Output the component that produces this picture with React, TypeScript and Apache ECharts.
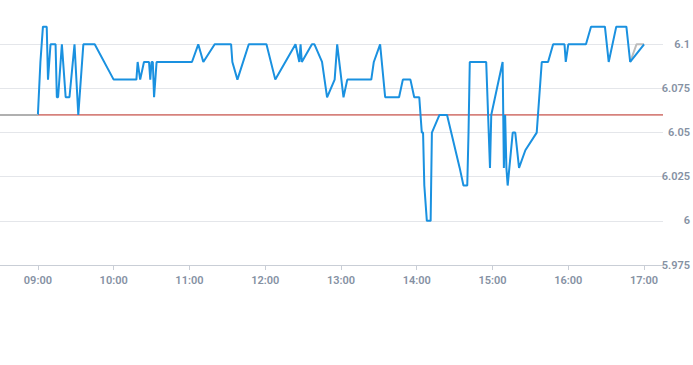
import React, { useEffect, useRef } from "react";
import * as echarts from "echarts";

// Intraday price (blue)
const times: string[] = [
  "09:00", "09:02", "09:04", "09:07", "09:08", "09:10", "09:14", "09:15", "09:16", "09:19",
  "09:22", "09:25", "09:29", "09:32", "09:36", "09:45", "10:00", "10:18", "10:19", "10:21",
  "10:24", "10:28", "10:29", "10:30", "10:31", "10:32", "10:34", "11:02", "11:07", "11:11",
  "11:20", "11:33", "11:34", "11:38", "11:47", "12:01", "12:08", "12:24", "12:27", "12:28",
  "12:29", "12:37", "12:39", "12:45", "12:47", "12:49", "12:55", "12:57", "13:02", "13:05",
  "13:24", "13:26", "13:31", "13:35", "13:46", "13:49", "13:55", "13:58", "14:02", "14:04",
  "14:05", "14:06", "14:08", "14:11", "14:12", "14:18", "14:24", "14:34", "14:37", "14:40",
  "14:41", "14:42", "14:55", "14:58", "14:59", "15:08", "15:09", "15:10", "15:11", "15:12",
  "15:16", "15:18", "15:21", "15:26", "15:35", "15:39", "15:44", "15:48", "15:57", "15:58",
  "16:00", "16:14", "16:18", "16:29", "16:32", "16:38", "16:46", "16:49", "17:00",
];
const prices: number[] = [
  6.06, 6.09, 6.11, 6.11, 6.08, 6.10, 6.10, 6.07, 6.07, 6.10,
  6.07, 6.07, 6.10, 6.06, 6.10, 6.10, 6.08, 6.08, 6.09, 6.08,
  6.09, 6.09, 6.08, 6.09, 6.09, 6.07, 6.09, 6.09, 6.10, 6.09,
  6.10, 6.10, 6.09, 6.08, 6.10, 6.10, 6.08, 6.10, 6.09, 6.10,
  6.09, 6.10, 6.10, 6.09, 6.08, 6.07, 6.08, 6.10, 6.07, 6.08,
  6.08, 6.09, 6.10, 6.07, 6.07, 6.08, 6.08, 6.07, 6.07, 6.05,
  6.05, 6.02, 6.00, 6.00, 6.05, 6.06, 6.06, 6.03, 6.02, 6.02,
  6.05, 6.09, 6.09, 6.03, 6.06, 6.09, 6.03, 6.06, 6.03, 6.02,
  6.05, 6.05, 6.03, 6.04, 6.05, 6.09, 6.09, 6.10, 6.10, 6.09,
  6.10, 6.10, 6.11, 6.11, 6.09, 6.11, 6.11, 6.09, 6.10,
];

// Grey segments (pre-market and closing)
const preTimes: string[] = ["08:30", "09:00"];
const preValues: number[] = [6.06, 6.06];
const postTimes: string[] = ["16:49", "16:54", "17:00"];
const postValues: number[] = [6.09, 6.10, 6.10];

const prevClose = 6.06;

const xTickLabels: string[] = [
  "09:00", "10:00", "11:00", "12:00", "13:00", "14:00", "15:00", "16:00", "17:00",
];
const xMin = "08:30";
const xMax = "17:15";

const yMin = 5.975;
const yMax = 6.12;
const yInterval = 0.025;

const toMin = (s: string) => {
  const [h, m] = s.split(":").map(Number);
  return h * 60 + m;
};
const fmt = (v: number) => {
  const h = Math.floor(v / 60);
  const m = Math.round(v - h * 60);
  return String(h).padStart(2, "0") + ":" + String(m).padStart(2, "0");
};

export default function App() {
  const ref = useRef<HTMLDivElement>(null);
  useEffect(() => {
    document.body.style.margin = "0";
    if (!ref.current) return;
    const chart = echarts.init(ref.current, undefined, { renderer: "svg" });
    const tickVals = xTickLabels.map(toMin);
    const labelStyle = {
      color: "#8591a3",
      fontSize: 11,
      fontWeight: 600 as any,
      fontFamily: "Roboto, 'Liberation Sans', Arial, sans-serif",
    };
    const red = "#b8261c";
    chart.setOption({
      animation: false,
      grid: { left: -1, right: 28, top: 9, bottom: 100, containLabel: false },
      xAxis: {
        type: "value",
        min: toMin(xMin),
        max: toMin(xMax),
        axisLine: { show: true, lineStyle: { color: "#c9ced6", width: 1 } },
        axisTick: {
          show: true,
          length: 5,
          customValues: tickVals,
          lineStyle: { color: "#c9ced6" },
        },
        axisLabel: {
          ...labelStyle,
          margin: 10,
          customValues: tickVals,
          formatter: (v: number) => fmt(v),
        },
        splitLine: { show: false },
      },
      yAxis: {
        type: "value",
        position: "right",
        min: yMin,
        max: yMax,
        interval: yInterval,
        axisLine: { show: false },
        axisTick: { show: false },
        axisLabel: {
          ...labelStyle,
          align: "right",
          margin: 27,
          showMaxLabel: false,
        },
        splitLine: {
          show: true,
          showMaxLine: false,
          lineStyle: { color: "#e4e6ea", width: 1 },
        },
      },
      series: [
        {
          type: "line",
          data: [
            [toMin(xMin), prevClose],
            [toMin(xMax), prevClose],
          ],
          symbol: "none",
          silent: true,
          color: red,
          lineStyle: { color: red, width: 1 },
          z: 1,
        },
        {
          type: "line",
          data: times.map((t, i) => [toMin(t), prices[i]]),
          symbol: "none",
          color: "#1a91e0",
          lineStyle: { color: "#1a91e0", width: 2 },
          z: 3,
        },
        {
          type: "line",
          data: preTimes.map((t, i) => [toMin(t), preValues[i]]),
          symbol: "none",
          color: "#b0b0b0",
          lineStyle: { color: "#b0b0b0", width: 2 },
          z: 4,
        },
        {
          type: "line",
          data: postTimes.map((t, i) => [toMin(t), postValues[i]]),
          symbol: "none",
          color: "#bdbdbd",
          lineStyle: { color: "#bdbdbd", width: 2 },
          z: 2,
        },
      ],
    });
    return () => chart.dispose();
  }, []);
  return <div ref={ref} style={{ width: 693, height: 365 }} />;
}
